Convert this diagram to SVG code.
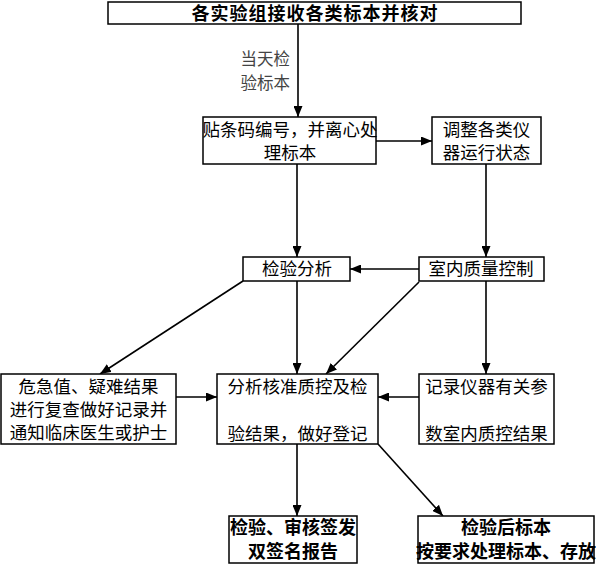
<svg xmlns="http://www.w3.org/2000/svg" width="596" height="564" viewBox="0 0 596 564">
<style>
.box{fill:#fff;stroke:#000;stroke-width:1.5}
.t{font-family:"Noto Sans CJK SC","Noto Sans",sans-serif;font-size:17.5px;fill:#000;text-anchor:middle}
.b{font-weight:bold;font-size:18px}
.lbl{font-family:"Noto Sans CJK SC","Noto Sans",sans-serif;font-size:16.5px;fill:#444;text-anchor:end}
.c line{stroke:#000;stroke-width:1.6;marker-end:url(#ah)}
</style>
<defs>
<marker id="ah" markerUnits="userSpaceOnUse" markerWidth="11" markerHeight="9" refX="11" refY="4.5" orient="auto">
<path d="M0,0 L11,4.5 L0,9 z" fill="#000"/>
</marker>
</defs>
<rect width="596" height="564" fill="#fff"/>
<g class="c" id="connectors">
<line x1="298" y1="24" x2="298" y2="117"/>
<line x1="297" y1="164" x2="297" y2="257"/>
<line x1="376" y1="141" x2="432" y2="141"/>
<line x1="486" y1="164" x2="486" y2="257"/>
<line x1="419" y1="269" x2="350" y2="269"/>
<line x1="243" y1="281" x2="100" y2="374"/>
<line x1="297" y1="281" x2="297" y2="374"/>
<line x1="419" y1="282" x2="326" y2="374"/>
<line x1="486" y1="281" x2="486" y2="374"/>
<line x1="176" y1="397" x2="217" y2="397"/>
<line x1="419" y1="397" x2="378" y2="397"/>
<line x1="297" y1="444" x2="297" y2="516"/>
<line x1="378" y1="444" x2="443" y2="516"/>
</g>
<text class="lbl" x="290" y="65">当天检</text>
<text class="lbl" x="290" y="89">验标本</text>
<g id="n1"><rect class="box" x="108" y="2" width="413" height="22"/><text class="t b" x="315" y="20" font-size="17" letter-spacing="1">各实验组接收各类标本并核对</text></g>
<g id="n2"><rect class="box" x="203" y="117" width="173" height="47"/><text class="t" x="290" y="136">贴条码编号，并离心处</text><text class="t" x="290" y="159">理标本</text></g>
<g id="n3"><rect class="box" x="432" y="117" width="109" height="47"/><text class="t" x="486.5" y="136">调整各类仪</text><text class="t" x="486.5" y="159">器运行状态</text></g>
<g id="n4"><rect class="box" x="243" y="257" width="107" height="24"/><text class="t" x="297" y="275">检验分析</text></g>
<g id="n5"><rect class="box" x="419" y="257" width="125" height="24"/><text class="t" x="481" y="275">室内质量控制</text></g>
<g id="n6"><rect class="box" x="1" y="374" width="175" height="70"/><text class="t" x="88.5" y="393">危急值、疑难结果</text><text class="t" x="88.5" y="416">进行复查做好记录并</text><text class="t" x="88.5" y="439">通知临床医生或护士</text></g>
<g id="n7"><rect class="box" x="217" y="374" width="161" height="70"/><text class="t" x="297.5" y="393">分析核准质控及检</text><text class="t" x="297.5" y="440">验结果，做好登记</text></g>
<g id="n8"><rect class="box" x="419" y="374" width="135" height="70"/><text class="t" x="486.5" y="393">记录仪器有关参</text><text class="t" x="486.5" y="440">数室内质控结果</text></g>
<g id="n9"><rect class="box" x="229" y="516" width="128" height="47"/><text class="t b" x="293" y="534">检验、审核签发</text><text class="t b" x="293" y="558">双签名报告</text></g>
<g id="n10"><rect class="box" x="418" y="516" width="176" height="47"/><text class="t b" x="506" y="534">检验后标本</text><text class="t b" x="506" y="558" font-size="17.5">按要求处理标本、存放</text></g>
</svg>
